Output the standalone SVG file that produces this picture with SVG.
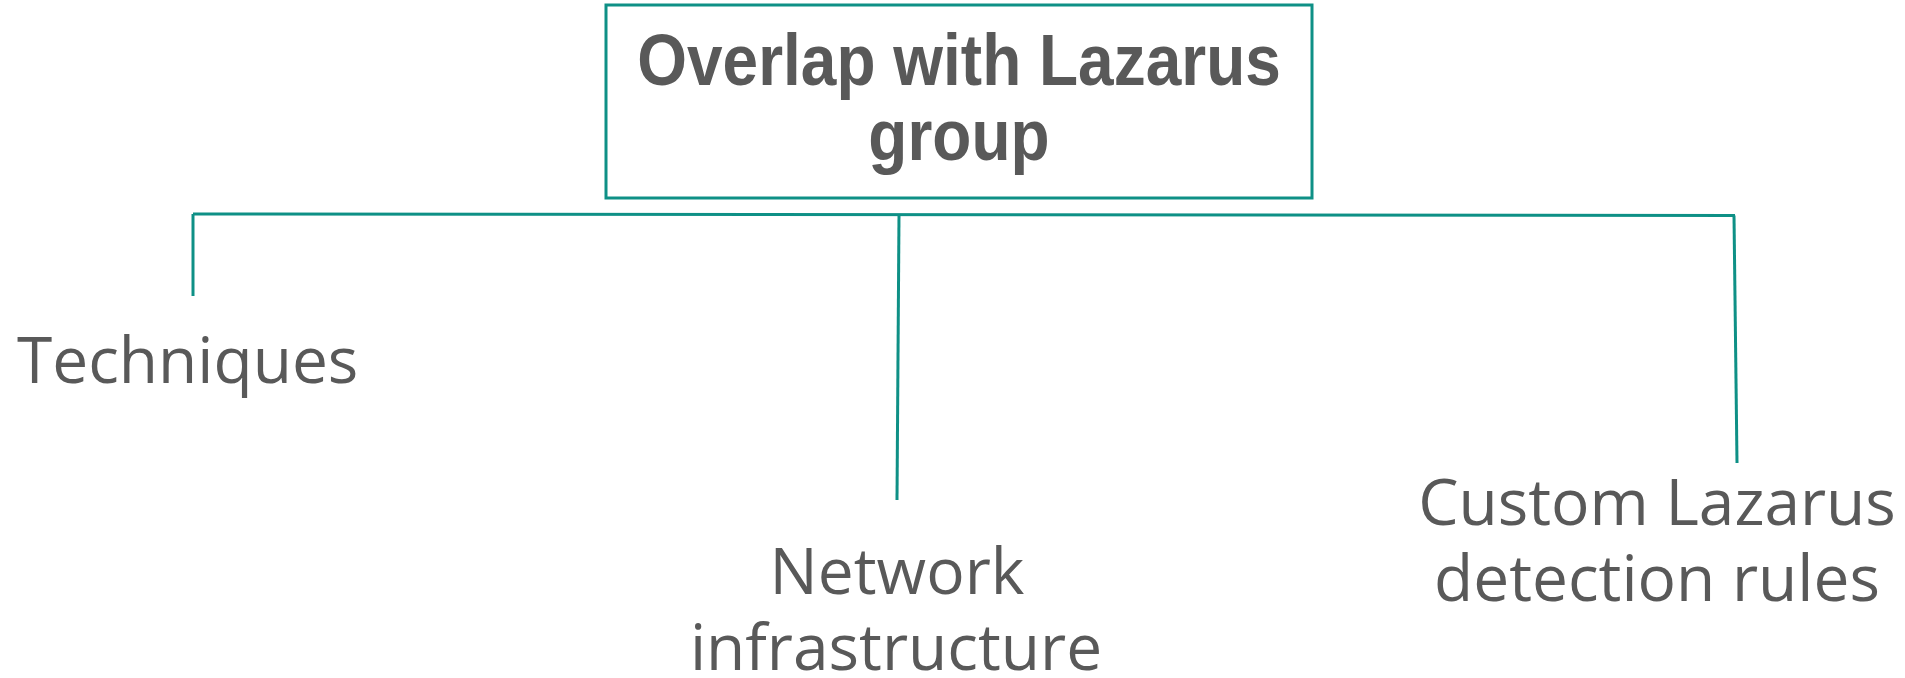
<svg xmlns="http://www.w3.org/2000/svg" width="1905" height="678" viewBox="0 0 1905 678">
  <style>
    .box { fill: #ffffff; stroke: #0e9086; stroke-width: 3; }
    .conn { fill: none; stroke: #0e9086; stroke-width: 3; stroke-linecap: butt; }
    .title { font-family: "Liberation Sans", Arial, sans-serif; font-weight: bold; font-size: 64px; fill: #595959; text-anchor: middle; }
    .label { font-family: "Open Sans", "Noto Sans", sans-serif; font-size: 64px; fill: #595959; }
    .mid { text-anchor: middle; }
  </style>
  <rect width="1905" height="678" fill="#ffffff"/>
  <g id="connectors">
    <line class="conn" x1="193" y1="214" x2="1735" y2="215.5"/>
    <line class="conn" x1="193" y1="214" x2="193" y2="296"/>
    <line class="conn" x1="899" y1="215" x2="897" y2="500"/>
    <line class="conn" x1="1734" y1="215.5" x2="1737" y2="463"/>
  </g>
  <g id="node-root">
    <rect class="box" x="606" y="5" width="706" height="193"/>
    <text class="title" transform="translate(959 85) scale(1 1.12)" x="0" y="0">Overlap with Lazarus</text>
    <text class="title" transform="translate(959 160) scale(1 1.12)" x="0" y="0">group</text>
  </g>
  <g id="node-techniques">
    <text class="label" x="17" y="383">Techniques</text>
  </g>
  <g id="node-network">
    <text class="label mid" x="897" y="594">Network</text>
    <text class="label mid" x="896" y="670">infrastructure</text>
  </g>
  <g id="node-custom">
    <text class="label mid" x="1657" y="525">Custom Lazarus</text>
    <text class="label mid" x="1657" y="601">detection rules</text>
  </g>
</svg>
